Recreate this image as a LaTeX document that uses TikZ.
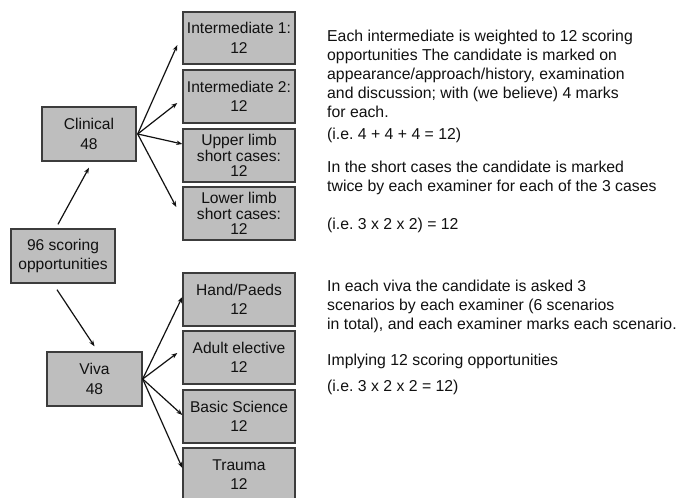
\documentclass[tikz,border=0pt]{standalone}
\usepackage{fontspec}
\setmainfont{Liberation Sans}
\usetikzlibrary{arrows.meta}
\frenchspacing
\definecolor{boxfill}{HTML}{BEBEBE}
\definecolor{boxline}{HTML}{3C3C3C}
\definecolor{ink}{HTML}{111111}
\tikzset{
  gbox/.style={draw=boxline, line width=1.4pt, fill=boxfill, align=center, inner sep=0pt,
    text=ink, font=\fontsize{15.6}{19.5}\selectfont},
  gbox3/.style={gbox, font=\fontsize{15.6}{15.5}\selectfont},
  arr/.style={draw=ink, line width=1.2pt, -{Stealth[length=6pt,width=4.5pt]}},
  note/.style={anchor=west, inner sep=0pt, align=left, text=ink, font=\fontsize{15.8}{19}\selectfont}
}
\begin{document}
\begin{tikzpicture}[x=1pt,y=-1pt]
\useasboundingbox[fill=white] (0,0) rectangle (681,498);
% boxes
\node[gbox, minimum width=112pt, minimum height=52pt] (int1) at (239,38) {Intermediate 1:\\12};
\node[gbox, minimum width=112pt, minimum height=53pt] (int2) at (239,96.5) {Intermediate 2:\\12};
\node[gbox3, minimum width=112pt, minimum height=53pt] (upper) at (239,155.5) {Upper limb\\short cases:\\12};
\node[gbox3, minimum width=112pt, minimum height=53pt] (lower) at (239,213.5) {Lower limb\\short cases:\\12};
\node[gbox, minimum width=94pt, minimum height=54pt] (clin) at (89,134) {Clinical\\48};
\node[gbox, minimum width=104pt, minimum height=54pt] (total) at (63,256) {96 scoring\\opportunities};
\node[gbox, minimum width=95pt, minimum height=54pt] (viva) at (94.5,379) {Viva\\48};
\node[gbox, minimum width=112pt, minimum height=53pt] (hand) at (239,299.5) {Hand/Paeds\\12};
\node[gbox, minimum width=112pt, minimum height=53pt] (adult) at (239,357.5) {Adult elective\\12};
\node[gbox, minimum width=112pt, minimum height=53pt] (basic) at (239,416.5) {Basic Science\\12};
\node[gbox, minimum width=112pt, minimum height=53pt] (trauma) at (239,474.5) {Trauma\\12};
% arrows
\draw[arr] ([xshift=-5pt,yshift=4pt]total.north) -- ([yshift=-6pt]clin.south);
\draw[arr] ([xshift=-6pt,yshift=-6pt]total.south) -- ([yshift=5pt]viva.north);
\draw[arr] ([xshift=1pt]clin.east) -- ([xshift=-5pt,yshift=-7pt]int1.west);
\draw[arr] ([xshift=1pt]clin.east) -- ([xshift=-5pt,yshift=-6.5pt]int2.west);
\draw[arr] ([xshift=1pt]clin.east) -- ([yshift=11.5pt]upper.west);
\draw[arr] ([xshift=1pt]clin.east) -- ([xshift=-6pt,yshift=6.5pt]lower.west);
\draw[arr] (viva.east) -- ([yshift=2.5pt]hand.west);
\draw[arr] (viva.east) -- ([xshift=-5pt,yshift=4.5pt]adult.west);
\draw[arr] (viva.east) -- ([yshift=1.5pt]basic.west);
\draw[arr] (viva.east) -- ([yshift=6.5pt]trauma.west);
% notes
\node[note] (t1) at (327,74) {Each intermediate is weighted to 12 scoring\\opportunities The candidate is marked on\\appearance/approach/history, examination\\and discussion; with (we believe) 4 marks\\for each.};
\node[note] (t2) at (327,135) {(i.e. 4 + 4 + 4 = 12)};
\node[note] (t3) at (327,177.5) {In the short cases the candidate is marked\\twice by each examiner for each of the 3 cases};
\node[note] (t4) at (327,225) {(i.e. 3 x 2 x 2) = 12};
\node[note] (t5) at (327,306) {In each viva the candidate is asked 3\\scenarios by each examiner (6 scenarios\\in total), and each examiner marks each scenario.};
\node[note] (t6) at (327,361) {Implying 12 scoring opportunities};
\node[note] (t7) at (327,387) {(i.e. 3 x 2 x 2 = 12)};
\end{tikzpicture}
\end{document}
